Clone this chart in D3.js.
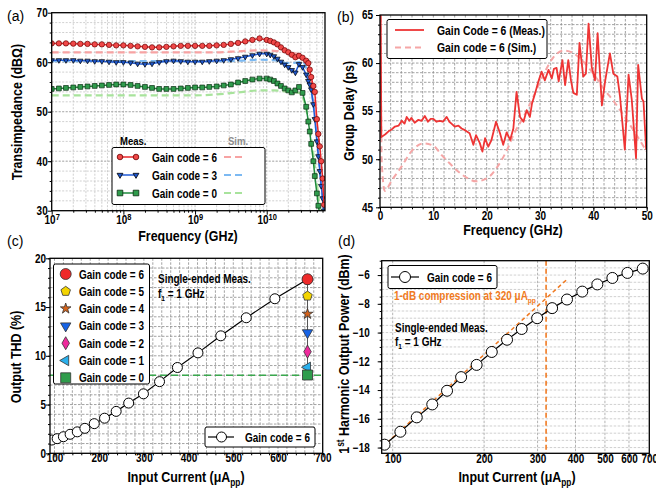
<!DOCTYPE html>
<html>
<head>
<meta charset="utf-8">
<script src="https://cdn.jsdelivr.net/npm/d3@7"></script>
<style>
  body { margin: 0; background: #fff; }
</style>
</head>
<body>
<div id="chart"></div>
<script>
// ---------- (a) transimpedance vs frequency ----------
const freqMeas = [1e7, 1.26e7, 1.58e7, 2e7, 2.51e7, 3.16e7, 3.98e7, 5.01e7, 6.31e7, 7.94e7,
  1e8, 1.26e8, 1.58e8, 2e8, 2.51e8, 3.16e8, 3.98e8, 5.01e8, 6.31e8, 7.94e8,
  1e9, 1.26e9, 1.58e9, 2e9, 2.51e9, 3.16e9, 3.98e9, 5.01e9, 6.31e9, 7.94e9,
  1e10, 1.12e10, 1.26e10, 1.41e10, 1.58e10, 1.78e10, 2e10, 2.24e10, 2.51e10, 2.82e10, 3.16e10,
  3.55e10, 3.8e10, 3.98e10, 4.17e10, 4.47e10, 4.68e10, 5.01e10, 5.25e10, 5.5e10, 5.75e10, 6.03e10, 6.31e10];
const tzMeasG6 = [63.8, 63.8, 63.8, 63.75, 63.7, 63.7, 63.6, 63.6, 63.5, 63.4,
  63.4, 63.3, 63.2, 63.1, 63.0, 63.0, 63.1, 63.2, 63.3, 63.3,
  63.3, 63.3, 63.3, 63.4, 63.5, 63.7, 63.9, 64.2, 64.5, 64.8,
  64.5, 64.3, 64.0, 63.6, 63.0, 62.4, 62.0, 61.5, 61.0, 61.3, 60.9,
  60.3, 59.8, 58.5, 57.0, 55.2, 54.0, 48.5, 45.5, 43.0, 40.0, 36.5, 31.2];
const tzMeasG3 = [60.4, 60.4, 60.4, 60.4, 60.3, 60.3, 60.2, 60.2, 60.1, 60.0,
  60.0, 59.9, 59.7, 59.6, 59.7, 60.0, 60.2, 60.3, 60.2, 60.1,
  60.1, 60.1, 60.2, 60.3, 60.4, 60.6, 60.8, 61.1, 61.4, 61.7,
  61.7, 61.5, 61.2, 60.7, 60.1, 59.5, 59.0, 58.4, 57.9, 59.6, 59.0,
  57.5, 56.2, 55.5, 54.5, 51.5, 48.5, 44.0, 41.0, 38.0, 35.0, 32.5, 30.0];
const tzMeasG0 = [54.6, 54.7, 54.8, 54.9, 55.0, 55.1, 55.2, 55.3, 55.4, 55.5,
  55.5, 55.4, 55.2, 55.0, 54.8, 54.6, 54.6, 54.6, 54.7, 54.8,
  54.9, 54.9, 55.0, 55.1, 55.3, 55.5, 55.9, 56.2, 56.5, 56.7,
  56.7, 56.5, 56.2, 55.7, 55.2, 54.7, 54.3, 53.9, 54.3, 55.0, 53.8,
  51.0, 48.0, 46.0, 43.5, 40.0, 37.0, 33.5, 31.0, 29.0, 27.0, 25.0, 23.0];
const freqSim = [1e7, 1e8, 1e9, 2e9, 3.98e9, 7.94e9, 1.26e10, 2e10, 2.82e10, 3.16e10,
  3.55e10, 3.98e10, 4.47e10, 5.01e10, 5.5e10, 6.03e10, 6.31e10];
const tzSimG6 = [62.0, 62.0, 62.0, 62.0, 62.2, 62.4, 62.3, 62.0, 61.6, 61.2, 59.8, 57.5, 53.5, 47.0, 40.5, 33.0, 29.0];
const tzSimG3 = [60.2, 60.2, 60.2, 60.2, 60.3, 60.5, 60.4, 59.8, 60.0, 60.2, 58.8, 56.0, 51.5, 45.0, 38.5, 31.5, 28.0];
const tzSimG0 = [53.3, 53.3, 53.3, 53.5, 53.9, 54.3, 54.3, 54.0, 53.8, 53.0, 50.5, 47.0, 41.5, 35.5, 30.5, 26.0, 24.0];

// ---------- (b) group delay ----------
const gdFreqMeas = [0.1, 0.25, 1, 1.6, 2.2, 2.8, 3.5, 4.1, 4.6, 5, 5.5, 5.9, 6.5, 7.2, 7.8, 8.4, 9, 9.5, 10,
  10.6, 11.2, 11.8, 12.5, 13, 13.4, 14, 14.7, 15.3, 16, 16.8, 17.5, 18, 18.7, 19.2, 19.7, 20.3, 20.9,
  21.75, 22.5, 23.1, 23.75, 24.4, 25, 25.6, 26.25, 26.9, 27.5, 28.1, 28.5, 29.1, 29.7, 30.3, 30.9,
  31.6, 32.2, 32.6, 33.1, 33.5, 34.2, 34.7, 35.3, 35.8, 36.25, 36.9, 37.4, 38.1, 38.6, 39.1, 39.7,
  40.3, 40.8, 41.6, 42.2, 43.1, 43.75, 44.5, 45, 45.9, 46.6, 47.2, 48.0, 48.4, 49.1, 49.4, 49.9];
const gdMeas = [68, 52.3, 52.6, 52.9, 53.1, 53.4, 53.5, 54.0, 53.7, 54.4, 54.0, 54.3, 53.8, 54.1, 54.0, 54.5, 53.9, 54.2, 54.2,
  53.9, 54.0, 53.9, 54.4, 53.9, 53.7, 53.4, 53.5, 53.2, 53.0, 52.7, 51.5, 52.5, 51.7, 50.8, 52.2, 51.3, 52.0,
  53.9, 52.7, 51.5, 52.8, 52.0, 53.2, 57.0, 54.4, 53.9, 55.1, 54.4, 55.8, 56.9, 58.1, 59.1, 58.2,
  59.3, 58.4, 59.4, 59.5, 58.1, 60.3, 57.7, 60.3, 58.2, 56.9, 56.7, 62.1, 58.6, 58.9, 64.1, 59.6,
  58.2, 63.1, 55.6, 58.1, 61.0, 58.9, 58.6, 56.5, 51.0, 58.8, 56.2, 50.1, 59.8, 56.3, 56.0, 51.0];
const gdFreqSim = [0.1, 0.3, 0.9, 2.2, 4, 6, 8.2, 10, 11.6, 13, 14.7, 16.5, 18, 20, 22, 24, 25, 27, 29, 31,
  32.5, 34.5, 36, 37.5, 39, 40.5, 42, 44, 46, 48, 50];
const gdSim = [68, 50, 46.7, 47.8, 49.2, 50.9, 51.65, 51.4, 50.4, 49.6, 48.7, 48.0, 47.7, 48.0, 49.2, 51.2, 52.5, 54.5, 56.8, 59.2,
  60.6, 61.3, 61.1, 60.5, 59.6, 58.5, 57.3, 55.9, 54.3, 52.6, 50.8];

// ---------- (c) THD and (d) output power ----------
const inputCurrent = [94, 106, 120, 135, 151, 168, 189, 212, 238, 266, 299, 335, 375, 421, 472, 529, 593, 666];
const thdG6 = [1.36, 1.5, 1.7, 1.95, 2.2, 2.56, 3.04, 3.6, 4.3, 5.15, 6.1, 7.35, 8.8, 10.3, 12.05, 13.9, 15.85, 17.85];
const powerG6 = [-17.8, -16.9, -15.9, -15.0, -14.05, -13.1, -12.25, -11.35, -10.5, -9.75, -9.0, -8.3, -7.7, -7.15, -6.65, -6.2, -5.85, -5.55];
const gainCodes = [6, 5, 4, 3, 2, 1, 0];
const thdAtMax = [17.85, 16.13, 14.29, 12.37, 10.42, 8.82, 8.03];
const maxCurrent = 666;
const thdLimit = 8.0;
const compCurrent = [92, 375];
const compPower = [-18.0, -6.3];
const compPoint = 320;

const FONT = '"Liberation Sans",Arial,sans-serif';
const SX = 0.83; // the figure uses a condensed bold face

const svg = d3.select("#chart").append("svg")
  .attr("width", 656).attr("height", 493)
  .style("font-family", FONT).style("font-weight", "bold");

// plot areas
const PA = {l: 51.7, r: 325, t: 12.7, b: 210.7};
const PB = {l: 380, r: 646.7, t: 15, b: 207.3};
const PC = {l: 50, r: 322.7, t: 258.3, b: 453.3};
const PD = {l: 381.7, r: 649.3, t: 260.7, b: 453.3};

function clip(id, P) {
  svg.append("clipPath").attr("id", id).append("rect")
    .attr("x", P.l).attr("y", P.t).attr("width", P.r - P.l).attr("height", P.b - P.t);
}
clip("clipA", PA); clip("clipB", PB); clip("clipC", PC); clip("clipD", PD);

function grid(P, x, y, xs, ys, color, dash) {
  const g = svg.append("g").attr("stroke", color).attr("stroke-width", 0.8).attr("stroke-dasharray", dash);
  g.selectAll(null).data(xs).enter().append("line")
    .attr("x1", d => x(d)).attr("x2", d => x(d)).attr("y1", P.t).attr("y2", P.b);
  g.selectAll(null).data(ys).enter().append("line")
    .attr("x1", P.l).attr("x2", P.r).attr("y1", d => y(d)).attr("y2", d => y(d));
}

function narrow(sel) {
  sel.each(function() {
    const t = d3.select(this);
    const x = +t.attr("x") || 0;
    t.attr("x", 0).attr("transform", `translate(${x},0) scale(${SX},1)`);
  });
}

function axes(P, x, y, xMajor, xMinor, yMajor, yMinor, xFmt, yFmt, xPad, yPad) {
  const style = g => {
    g.select(".domain").remove();
    g.attr("font-family", FONT).attr("font-size", 12).attr("font-weight", "bold");
    g.selectAll("line").attr("stroke", "#000").attr("stroke-width", 1);
  };
  svg.append("g").attr("transform", `translate(0,${P.b})`)
    .call(d3.axisBottom(x).tickValues(xMinor).tickSize(2).tickFormat("")).call(style);
  const xa = svg.append("g").attr("transform", `translate(0,${P.b})`)
    .call(d3.axisBottom(x).tickValues(xMajor).tickSize(4).tickPadding(xPad).tickFormat(xFmt)).call(style);
  svg.append("g").attr("transform", `translate(${P.l},0)`)
    .call(d3.axisLeft(y).tickValues(yMinor).tickSize(2).tickFormat("")).call(style);
  const ya = svg.append("g").attr("transform", `translate(${P.l},0)`)
    .call(d3.axisLeft(y).tickValues(yMajor).tickSize(4).tickPadding(yPad).tickFormat(yFmt)).call(style);
  narrow(xa.selectAll(".tick text"));
  narrow(ya.selectAll(".tick text"));
  return xa;
}

function frame(P) {
  svg.append("rect").attr("x", P.l).attr("y", P.t).attr("width", P.r - P.l).attr("height", P.b - P.t)
    .attr("fill", "none").attr("stroke", "#000").attr("stroke-width", 1.3);
}

function text(x, y, str, size, opts = {}) {
  const sx = opts.plain ? 1 : SX;
  const t = svg.append("text").attr("x", 0).attr("y", 0).attr("font-size", size)
    .attr("text-anchor", opts.anchor || "start").attr("fill", opts.fill || "#000").text(str)
    .attr("transform", `translate(${x},${y})${opts.rotate ? " rotate(-90)" : ""} scale(${sx},1)`);
  if (opts.weight) t.attr("font-weight", opts.weight);
  return t;
}

// marker shapes
function shape(type, r) {
  if (type === "circle") return d3.symbol(d3.symbolCircle, Math.PI * r * r)();
  if (type === "square") return d3.symbol(d3.symbolSquare, 4 * r * r)();
  if (type === "triDown" || type === "triLeft") {
    const a = type === "triDown" ? 90 : 180;
    const pts = [0, 120, 240].map(k => {
      const t = (a + k) * Math.PI / 180;
      return [r * 1.2 * Math.cos(t), r * 1.2 * Math.sin(t)];
    });
    return "M" + pts.join("L") + "Z";
  }
  if (type === "diamond") return `M0,${-r * 1.3}L${r * 0.75},0L0,${r * 1.3}L${-r * 0.75},0Z`;
  if (type === "pentagon") {
    const pts = d3.range(5).map(i => [r * Math.sin(2 * Math.PI * i / 5), -r * Math.cos(2 * Math.PI * i / 5)]);
    return "M" + pts.join("L") + "Z";
  }
  if (type === "star") return d3.symbol(d3.symbolStar, r * r * 2.2)();
}

function markers(g, pts, type, r, fill, stroke, sw) {
  g.selectAll(null).data(pts).enter().append("path")
    .attr("transform", d => `translate(${d[0]},${d[1]})`)
    .attr("d", shape(type, r)).attr("fill", fill).attr("stroke", stroke).attr("stroke-width", sw);
}

// ================= (a) =================
const xA = d3.scaleLog().domain([1e7, 6.5e10]).range([PA.l, PA.r]);
const yA = d3.scaleLinear().domain([30, 70]).range([PA.b, PA.t]);
const decadesA = [1e7, 1e8, 1e9, 1e10];
const logMinorA = [];
decadesA.forEach(d => d3.range(2, 10).forEach(k => { if (k * d <= 6.5e10) logMinorA.push(k * d); }));
grid(PA, xA, yA, logMinorA, d3.range(32, 70, 2), "#c4c4c4", "2,1.5");
grid(PA, xA, yA, decadesA.slice(1), [40, 50, 60], "#a8a8a8", "2,1.5");

const gA = svg.append("g").attr("clip-path", "url(#clipA)");
const lineA = (xs, ys) => d3.line().x((d, i) => xA(xs[i])).y(d => yA(d))(ys);
[[tzSimG6, "#f7a3a3"], [tzSimG3, "#7cb9f2"], [tzSimG0, "#a8e39c"]].forEach(([s, c]) => {
  gA.append("path").attr("d", d3.line().curve(d3.curveMonotoneX).x((d, i) => xA(freqSim[i])).y(d => yA(d))(s))
    .attr("fill", "none").attr("stroke", c).attr("stroke-width", 2.2).attr("stroke-dasharray", "7,4");
});
const measA = [
  [tzMeasG0, "#1f8a3c", "square", 2.4, "#2f9c4c", "#0b2c12"],
  [tzMeasG3, "#1f5ad6", "triDown", 2.6, "#1d56cc", "#000"],
  [tzMeasG6, "#e8262a", "circle", 2.7, "#f04848", "#6a0000"]
];
measA.forEach(([s, c, m, r, f, st]) => {
  gA.append("path").attr("d", lineA(freqMeas, s)).attr("fill", "none").attr("stroke", c).attr("stroke-width", 1.5);
  markers(gA, s.map((v, i) => [xA(freqMeas[i]), yA(v)]), m, r, f, st, 0.7);
});
axes(PA, xA, yA, decadesA, logMinorA, [30, 40, 50, 60, 70], d3.range(32, 70, 2), () => "", d3.format("d"), 1, 0)
  .selectAll(".tick text").each(function(d) {
    const t = d3.select(this);
    t.text("10");
    t.append("tspan").attr("dy", "-0.45em").attr("font-size", 9).text(Math.round(Math.log10(d)));
  });
frame(PA);

// legend (a)
text(120, 145, "Meas.", 11.5);
text(228, 145, "Sim.", 11.5, {fill: "#8c8c8c"});
svg.append("rect").attr("x", 112).attr("y", 147.5).attr("width", 153).attr("height", 57)
  .attr("fill", "#fff").attr("stroke", "#000").attr("stroke-width", 1).attr("rx", 2);
const legA = [
  ["Gain code = 6", "#e8262a", "circle", "#f04848", "#6a0000", "#f7a3a3"],
  ["Gain code = 3", "#1f5ad6", "triDown", "#1d56cc", "#000", "#7cb9f2"],
  ["Gain code = 0", "#1f8a3c", "square", "#2f9c4c", "#0b2c12", "#a8e39c"]
];
legA.forEach(([lab, c, m, f, st, sc], i) => {
  const yy = 157 + i * 18;
  svg.append("line").attr("x1", 119).attr("x2", 137).attr("y1", yy).attr("y2", yy).attr("stroke", c).attr("stroke-width", 1.5);
  markers(svg, [[120, yy], [136, yy]], m, 2.8, f, st, 0.8);
  text(152, yy + 4.5, lab, 12);
  svg.append("line").attr("x1", 224).attr("x2", 244).attr("y1", yy).attr("y2", yy)
    .attr("stroke", sc).attr("stroke-width", 2.2).attr("stroke-dasharray", "7,4");
});

text(22, 112, "Transimpedance (dBΩ)", 15, {rotate: true, anchor: "middle"});
text(188, 241, "Frequency (GHz)", 15, {anchor: "middle"});
text(7, 21, "(a)", 14, {weight: "normal", plain: true});

// ================= (b) =================
const xB = d3.scaleLinear().domain([0, 50]).range([PB.l, PB.r]);
const yB = d3.scaleLinear().domain([45, 65]).range([PB.b, PB.t]);
grid(PB, xB, yB, d3.range(2, 50, 2), d3.range(46, 65, 1), "#8c8c8c", "2.5,1.5");
const gB = svg.append("g").attr("clip-path", "url(#clipB)");
gB.append("path").attr("d", d3.line().curve(d3.curveMonotoneX).x((d, i) => xB(gdFreqSim[i])).y(d => yB(d))(gdSim))
  .attr("fill", "none").attr("stroke", "#f5a6a6").attr("stroke-width", 2).attr("stroke-dasharray", "6,4");
gB.append("path").attr("d", d3.line().x((d, i) => xB(gdFreqMeas[i])).y(d => yB(d))(gdMeas))
  .attr("fill", "none").attr("stroke", "#ee3535").attr("stroke-width", 1.8).attr("stroke-linejoin", "round");
axes(PB, xB, yB, d3.range(0, 51, 10), d3.range(0, 51, 2), d3.range(45, 66, 5), d3.range(45, 66, 1),
  d3.format("d"), d3.format("d"), 0, 3);
frame(PB);

svg.append("rect").attr("x", 387).attr("y", 19.5).attr("width", 160).attr("height", 39)
  .attr("fill", "#fff").attr("stroke", "#000").attr("stroke-width", 1).attr("rx", 2);
svg.append("line").attr("x1", 395).attr("x2", 424).attr("y1", 30).attr("y2", 30).attr("stroke", "#ee3535").attr("stroke-width", 1.8);
svg.append("line").attr("x1", 395).attr("x2", 424).attr("y1", 47.5).attr("y2", 47.5)
  .attr("stroke", "#f5a6a6").attr("stroke-width", 2).attr("stroke-dasharray", "6,4");
text(437, 34.5, "Gain Code = 6 (Meas.)", 12.5);
text(437, 52, "Gain code = 6 (Sim.)", 12.5);

text(354, 111, "Group Delay (ps)", 15, {rotate: true, anchor: "middle"});
text(513, 234.5, "Frequency (GHz)", 15, {anchor: "middle"});
text(337, 22, "(b)", 14, {weight: "normal", plain: true});

// ================= (c) =================
const xC = d3.scaleLinear().domain([90, 700]).range([PC.l, PC.r]);
const yC = d3.scaleLinear().domain([0, 20]).range([PC.b, PC.t]);
grid(PC, xC, yC, d3.range(100, 700, 20), d3.range(1, 20, 1), "#8c8c8c", "2.5,1.5");
const gC = svg.append("g").attr("clip-path", "url(#clipC)");
gC.append("line").attr("x1", PC.l).attr("x2", PC.r).attr("y1", yC(thdLimit)).attr("y2", yC(thdLimit))
  .attr("stroke", "#3aa84e").attr("stroke-width", 1.6).attr("stroke-dasharray", "7,4");
gC.append("line").attr("x1", xC(maxCurrent)).attr("x2", xC(maxCurrent))
  .attr("y1", yC(d3.min(thdAtMax))).attr("y2", yC(d3.max(thdAtMax))).attr("stroke", "#555").attr("stroke-width", 1);
gC.append("path").attr("d", d3.line().x((d, i) => xC(inputCurrent[i])).y(d => yC(d))(thdG6))
  .attr("fill", "none").attr("stroke", "#000").attr("stroke-width", 1.2);
markers(gC, thdG6.map((v, i) => [xC(inputCurrent[i]), yC(v)]), "circle", 5, "#fff", "#000", 1);

const codeStyle = {
  6: ["circle", 5.5, "#ee2a2a"], 5: ["pentagon", 5, "#f3d400"], 4: ["star", 4, "#d4621a"],
  3: ["triDown", 5, "#1663e6"], 2: ["diamond", 5, "#ee2a9c"], 1: ["triLeft", 5, "#2ab0ec"], 0: ["square", 5, "#2f9c4c"]
};
gainCodes.forEach((gc, i) => {
  const [m, r, f] = codeStyle[gc];
  markers(svg, [[xC(maxCurrent), yC(thdAtMax[i])]], m, r, f, "#333", 0.8);
});
axes(PC, xC, yC, d3.range(100, 701, 100), d3.range(100, 701, 20), d3.range(0, 21, 5), d3.range(0, 21, 1),
  d3.format("d"), d3.format("d"), -3.5, 0);
frame(PC);

svg.append("rect").attr("x", 53.5).attr("y", 264).attr("width", 96).attr("height", 120)
  .attr("fill", "#fff").attr("stroke", "#000").attr("stroke-width", 1).attr("rx", 2);
gainCodes.forEach((gc, i) => {
  const [m, r, f] = codeStyle[gc];
  const yy = 274 + i * 17.3;
  markers(svg, [[65.7, yy]], m, r, f, "#333", 0.8);
  text(79, yy + 4.5, "Gain code = " + gc, 12);
});
text(158, 283, "Single-ended Meas.", 12);
const f1c = text(158, 297.5, "f", 12);
f1c.append("tspan").attr("dy", 3).attr("font-size", 8).text("1");
f1c.append("tspan").attr("dy", -3).text(" = 1 GHz");

svg.append("rect").attr("x", 205).attr("y", 427).attr("width", 110).attr("height", 20)
  .attr("fill", "#fff").attr("stroke", "#000").attr("stroke-width", 1).attr("rx", 2);
svg.append("line").attr("x1", 208).attr("x2", 234).attr("y1", 437).attr("y2", 437).attr("stroke", "#000").attr("stroke-width", 1.2);
markers(svg, [[221.5, 437]], "circle", 5, "#fff", "#000", 1);
text(245, 441.5, "Gain code = 6", 12);

text(21, 357, "Output THD (%)", 15, {rotate: true, anchor: "middle"});
const xtC = text(186, 482, "Input Current (μA", 15, {anchor: "middle"});
xtC.append("tspan").attr("dy", 4).attr("font-size", 10).text("pp");
xtC.append("tspan").attr("dy", -4).text(")");
text(7, 246, "(c)", 14, {weight: "normal", plain: true});

// ================= (d) =================
const xD = d3.scaleLog().domain([92, 700]).range([PD.l, PD.r]);
const yD = d3.scaleLinear().domain([-18.4, -5]).range([PD.b, PD.t]);
grid(PD, xD, yD, [], d3.range(-18, -5, 0.5), "#c4c4c4", "2.5,1.5");
grid(PD, xD, yD, [100, 200, 300, 400, 500, 600], [], "#a0a0a0", "2.5,1.5");
const gD = svg.append("g").attr("clip-path", "url(#clipD)");
gD.append("line").attr("x1", xD(compPoint)).attr("x2", xD(compPoint)).attr("y1", PD.t).attr("y2", PD.b)
  .attr("stroke", "#f07a22").attr("stroke-width", 1.6).attr("stroke-dasharray", "5,3");
gD.append("path").attr("d", d3.line().x((d, i) => xD(compCurrent[i])).y(d => yD(d))(compPower))
  .attr("fill", "none").attr("stroke", "#f07a22").attr("stroke-width", 1.5).attr("stroke-dasharray", "4,3");
gD.append("path").attr("d", d3.line().x((d, i) => xD(inputCurrent[i])).y(d => yD(d))(powerG6))
  .attr("fill", "none").attr("stroke", "#000").attr("stroke-width", 1.2);
markers(gD, powerG6.map((v, i) => [xD(inputCurrent[i]), yD(v)]), "circle", 5.5, "#fff", "#000", 1);
axes(PD, xD, yD, [100, 200, 300, 400, 500, 600, 700], [], d3.range(-18, -5, 2), d3.range(-18, -4.9, 0.5),
  d3.format("d"), d => "\u2212" + Math.abs(d), -2.5, 8);
frame(PD);

svg.append("rect").attr("x", 388).attr("y", 265.5).attr("width", 109).attr("height", 23)
  .attr("fill", "#fff").attr("stroke", "#000").attr("stroke-width", 1).attr("rx", 2);
svg.append("line").attr("x1", 391).attr("x2", 419).attr("y1", 277).attr("y2", 277).attr("stroke", "#000").attr("stroke-width", 1.2);
markers(svg, [[405, 277]], "circle", 5.5, "#fff", "#000", 1);
text(427, 281.5, "Gain code = 6", 12);

const comp = text(394, 299.5, "1-dB compression at 320 μA", 12, {fill: "#f07a22"});
comp.append("tspan").attr("dy", 3).attr("font-size", 8).text("pp");
text(395, 332, "Single-ended Meas.", 12);
const f1d = text(395, 346, "f", 12);
f1d.append("tspan").attr("dy", 3).attr("font-size", 8).text("1");
f1d.append("tspan").attr("dy", -3).text(" = 1 GHz");

const ytD = text(349, 354, "1", 15, {rotate: true, anchor: "middle"});
ytD.append("tspan").attr("dy", -5).attr("font-size", 10).text("st");
ytD.append("tspan").attr("dy", 5).text(" Harmonic Output Power (dBm)");
const xtD = text(517, 482, "Input Current (μA", 15, {anchor: "middle"});
xtD.append("tspan").attr("dy", 4).attr("font-size", 10).text("pp");
xtD.append("tspan").attr("dy", -4).text(")");
text(338, 246, "(d)", 14, {weight: "normal", plain: true});
</script>
</body>
</html>
